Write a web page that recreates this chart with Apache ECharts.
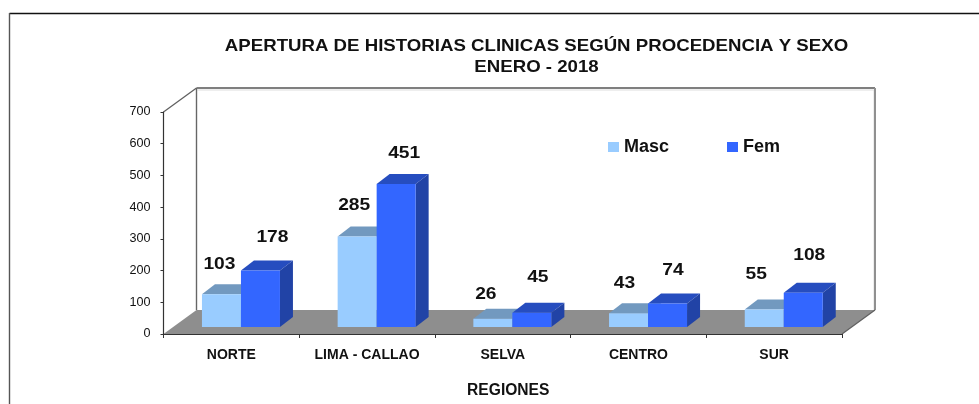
<!DOCTYPE html>
<html>
<head>
<meta charset="utf-8">
<style>html,body{margin:0;padding:0;background:#fff}#c{width:979px;height:404px}</style>
<script src="https://cdn.jsdelivr.net/npm/echarts@6/dist/echarts.min.js"></script>
</head>
<body>
<div id="c"></div>
<script>
var categories = ['NORTE', 'LIMA - CALLAO', 'SELVA', 'CENTRO', 'SUR'];
var masc = [103, 285, 26, 43, 55];
var fem = [178, 451, 45, 74, 108];
var yTicks = { min: 0, max: 700, interval: 100 };
var titleText = 'APERTURA DE HISTORIAS CLINICAS SEGÚN PROCEDENCIA Y SEXO\nENERO - 2018';
var axisName = 'REGIONES';

// Faux-3D drawing parameters (pixels)
var WALL_DX = 33, WALL_DY = 24;
var BAR_SHIFT_X = 9.6, BAR_SHIFT_Y = 7;
var BAR_DX = 13, BAR_DY = 10;
var BAR_W = 39;
var FONT = '"Liberation Sans", Arial, sans-serif';
// Label placement relative to the top-centre of each bar front
var nudgeMasc = [[-2, -30], [-3, -31], [-7, -24], [-4, -30], [-8, -35]];
var nudgeFem = [[12, -33], [8, -30], [6, -35], [5.5, -33], [6, -37]];

function poly(points, fill, z2) {
  return { type: 'polygon', z2: z2 || 0, shape: { points: points }, style: { fill: fill, stroke: null } };
}
function barRenderer(side, colors, nudges) {
  return function (params, api) {
    var idx = api.value(0);
    var top = api.coord([idx, api.value(1)]);
    var base = api.coord([idx, 0]);
    var l = top[0] + BAR_SHIFT_X + (side < 0 ? -BAR_W : 0);
    var r = l + BAR_W;
    var t = top[1] - BAR_SHIFT_Y;
    var b = base[1] - BAR_SHIFT_Y;
    var n = nudges[params.dataIndex];
    return {
      type: 'group',
      children: [
        poly([[l, t], [r, t], [r + BAR_DX, t - BAR_DY], [l + BAR_DX, t - BAR_DY]], colors.top),
        poly([[r, t], [r + BAR_DX, t - BAR_DY], [r + BAR_DX, b - BAR_DY], [r, b]], colors.side),
        { type: 'rect', shape: { x: l, y: t, width: BAR_W, height: b - t }, style: { fill: colors.front } },
        {
          type: 'text', z2: 10,
          x: (l + r) / 2 + n[0], y: t + n[1], scaleX: 1.2,
          style: {
            x: 0, y: 0,
            text: String(api.value(1)),
            fill: '#111', font: 'bold 16px "Liberation Sans", sans-serif',
            align: 'center', verticalAlign: 'middle'
          }
        }
      ]
    };
  };
}
function wallRenderer(params, api) {
  var g = params.coordSys;
  var x0 = g.x, x1 = g.x + g.width, y0 = g.y, y1 = g.y + g.height;
  var dx = WALL_DX, dy = WALL_DY;
  function line(pts, color, w) {
    return { type: 'polyline', shape: { points: pts }, style: { stroke: color, lineWidth: w, fill: null } };
  }
  return {
    type: 'group',
    children: [
      poly([[x0, y1], [x1, y1], [x1 + dx, y1 - dy], [x0 + dx, y1 - dy]], '#8e8e8e'),
      line([[x0 + dx + 1, y0 - dy + 2], [x1 + dx - 1, y0 - dy + 2], [x1 + dx - 1, y1 - dy]], '#dddddd', 1),
      line([[x0 + dx, y1 - dy], [x0 + dx, y0 - dy]], '#666666', 1.4),
      line([[x0 + dx, y0 - dy], [x1 + dx, y0 - dy]], '#7f7f7f', 2),
      line([[x1 + dx, y0 - dy], [x1 + dx, y1 - dy]], '#909090', 2),
      line([[x0, y0], [x0 + dx, y0 - dy]], '#606060', 1.2),
      line([[x1, y1], [x1 + dx, y1 - dy]], '#606060', 1.2)
    ]
  };
}

var chart = echarts.init(document.getElementById('c'), null, { renderer: 'canvas' });
chart.setOption({
  animation: false,
  backgroundColor: '#fff',
  legend: {
    data: ['Masc', 'Fem'],
    left: 603, top: 133,
    icon: 'rect', itemWidth: 11, itemHeight: 10, itemGap: 58,
    textStyle: { fontFamily: FONT, fontWeight: 'bold', fontSize: 18, color: '#111' }
  },
  grid: { left: 163.5, right: 137, top: 112, bottom: 70 },
  xAxis: {
    type: 'category', data: categories, z: 5,
    name: axisName, nameLocation: 'middle', nameGap: 49,
    nameTextStyle: { fontFamily: FONT, fontWeight: 'bold', fontSize: 15.6, color: '#111', padding: [0, 0, 0, 11] },
    axisLine: { lineStyle: { color: '#333', width: 1.2 } },
    axisTick: { show: true, alignWithLabel: false, length: 4, lineStyle: { color: '#333' } },
    axisLabel: { fontFamily: FONT, fontWeight: 'bold', fontSize: 14, color: '#111', margin: 14, interval: 0 }
  },
  yAxis: {
    type: 'value', min: yTicks.min, max: yTicks.max, interval: yTicks.interval, z: 5,
    axisLine: { show: true, lineStyle: { color: '#333', width: 1.2 } },
    axisTick: { show: true, length: 3, lineStyle: { color: '#333' } },
    splitLine: { show: false },
    axisLabel: { fontFamily: FONT, fontSize: 12.6, color: '#111', margin: 13, padding: [5, 0, 0, 0] }
  },
  series: [
    {
      name: 'walls', type: 'custom', z: 1, silent: true,
      renderItem: wallRenderer, data: [[0, 0]], encode: { x: 0, y: 1 }, clip: false
    },
    {
      name: 'Masc', type: 'custom', z: 2, itemStyle: { color: '#99ccff' },
      renderItem: barRenderer(-1, { front: '#99ccff', top: '#7299bf', side: '#7299bf' }, nudgeMasc),
      data: masc.map(function (v, i) { return [i, v]; }), encode: { x: 0, y: 1 }, clip: false
    },
    {
      name: 'Fem', type: 'custom', z: 3, itemStyle: { color: '#3366ff' },
      renderItem: barRenderer(1, { front: '#3366ff', top: '#264dbf', side: '#2143a6' }, nudgeFem),
      data: fem.map(function (v, i) { return [i, v]; }), encode: { x: 0, y: 1 }, clip: false
    }
  ],
  graphic: [
    { type: 'line', z: 0, shape: { x1: 9.5, y1: 13.5, x2: 979, y2: 13.5 }, style: { stroke: '#111', lineWidth: 1.4 } },
    { type: 'line', z: 0, shape: { x1: 9.5, y1: 13, x2: 9.5, y2: 404 }, style: { stroke: '#555', lineWidth: 1.4 } },
    {
      type: 'text', z: 10, x: 536.5, y: 35.5, scaleX: 1.13,
      style: {
        text: titleText, fill: '#111', align: 'center', verticalAlign: 'top',
        font: 'bold 16.5px "Liberation Sans", sans-serif', lineHeight: 21.5
      }
    }
  ]
});
</script>
</body>
</html>
